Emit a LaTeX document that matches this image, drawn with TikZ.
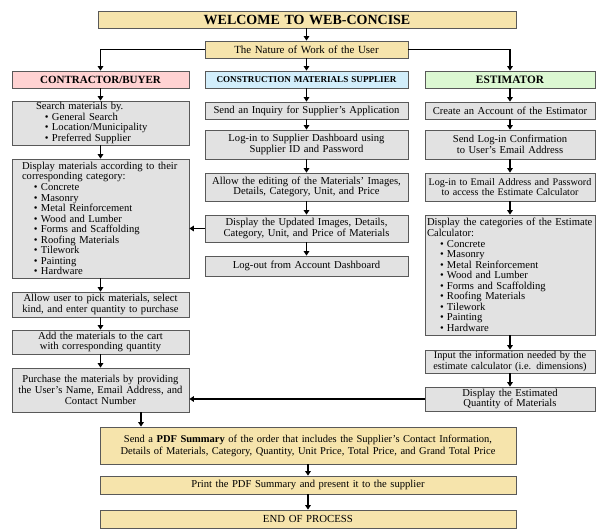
\documentclass[tikz,border=0pt]{standalone}
\usepackage{fontspec}
\setmainfont{Liberation Serif}
\usetikzlibrary{arrows.meta,shadows}
\definecolor{yel}{HTML}{F6E4AC}
\definecolor{pnk}{HTML}{FFD2D2}
\definecolor{blu}{HTML}{D2EEFB}
\definecolor{grn}{HTML}{DCF8D2}
\definecolor{gry}{HTML}{E2E2E2}
\newcommand{\fsz}[2]{\fontsize{#1}{#2}\selectfont}
\newcommand{\itm}[2]{\hspace*{#1}\makebox[7pt][l]{•}#2}
\tikzset{
  base/.style={draw=black!65, line width=0.7pt, inner xsep=2pt, inner ysep=0.5pt, align=center,
    font=\fsz{10.6}{10.8},
    drop shadow={shadow xshift=1.2pt, shadow yshift=-1.2pt, fill=black!45, opacity=0.7}},
  gbox/.style={base, fill=gry},
  ybox/.style={base, fill=yel},
  lst/.style={align=left, font=\fsz{10.6}{10.55}},
  colC/.style={minimum width=177pt, text width=173pt},
  colS/.style={minimum width=203pt, text width=199pt},
  colE/.style={minimum width=170pt, text width=166pt},
  colB/.style={minimum width=416pt, text width=412pt},
  link/.style={line width=1.4pt, -{Triangle[width=5.5pt,length=4.5pt]}},
}
\begin{document}
\begin{tikzpicture}[x=1pt,y=-1pt]
\useasboundingbox (0,0) rectangle (598,531);
% top
\node[ybox, minimum width=418pt, text width=414pt, minimum height=17pt, font=\fsz{14}{15}\bfseries] (title) at (307,19.5) {WELCOME TO WEB-CONCISE};
\node[ybox, colS, minimum height=17pt, font=\fsz{10.9}{12}] (nature) at (306.5,49.5) {The Nature of Work of the User};
% headers
\node[base, fill=pnk, colC, minimum height=17pt, font=\fsz{11}{12}\bfseries] (hC) at (100.5,79.5) {CONTRACTOR/BUYER};
\node[base, fill=blu, colS, minimum height=17pt, font=\fsz{9.1}{10}\bfseries] (hS) at (306.5,79.5) {CONSTRUCTION MATERIALS SUPPLIER};
\node[base, fill=grn, colE, minimum height=17pt, font=\fsz{11.3}{12}\bfseries] (hE) at (510,79.5) {ESTIMATOR};
% contractor column
\node[gbox, colC, lst, minimum height=44pt] (c1) at (100.5,123) {\hspace*{22pt}Search materials by.\\
\itm{31pt}{General Search}\\\itm{31pt}{Location/Municipality}\\\itm{31pt}{Preferred Supplier}};
\node[gbox, colC, lst, minimum height=119pt] (c2) at (100.5,218.5) {\hspace*{8pt}Display materials according to their\\
\hspace*{8pt}corresponding category:\\
\itm{20pt}{Concrete}\\\itm{20pt}{Masonry}\\\itm{20pt}{Metal Reinforcement}\\\itm{20pt}{Wood and Lumber}\\
\itm{20pt}{Forms and Scaffolding}\\\itm{20pt}{Roofing Materials}\\\itm{20pt}{Tilework}\\\itm{20pt}{Painting}\\\itm{20pt}{Hardware}};
\node[gbox, colC, minimum height=25pt] (c3) at (100.5,304.5) {Allow user to pick materials, select\\kind, and enter quantity to purchase};
\node[gbox, colC, minimum height=24pt] (c4) at (100.5,342) {Add the materials to the cart\\with corresponding quantity};
\node[gbox, colC, minimum height=44pt] (c5) at (100.5,390) {Purchase the materials by providing\\the User's Name, Email Address, and\\Contact Number};
% supplier column
\node[gbox, colS, minimum height=17pt] (s1) at (306.5,110.5) {Send an Inquiry for Supplier's Application};
\node[gbox, colS, minimum height=29pt] (s2) at (306.5,144.5) {Log-in to Supplier Dashboard using\\Supplier ID and Password};
\node[gbox, colS, minimum height=28pt] (s3) at (306.5,187) {Allow the editing of the Materials' Images,\\Details, Category, Unit, and Price};
\node[gbox, colS, minimum height=27pt] (s4) at (306.5,228.5) {Display the Updated Images, Details,\\Category, Unit, and Price of Materials};
\node[gbox, colS, minimum height=20pt] (s5) at (306.5,266) {Log-out from Account Dashboard};
% estimator column
\node[gbox, colE, minimum height=17pt] (e1) at (510,110.5) {Create an Account of the Estimator};
\node[gbox, colE, minimum height=29pt] (e2) at (510,144.5) {Send Log-in Confirmation\\to User's Email Address};
\node[gbox, colE, minimum height=28pt, font=\fsz{10.1}{10.8}] (e3) at (510,187) {Log-in to Email Address and Password\\to access the Estimate Calculator};
\node[gbox, colE, lst, minimum height=120pt] (e4) at (510,275) {Display the categories of the Estimate\\Calculator:\\
\itm{13pt}{Concrete}\\\itm{13pt}{Masonry}\\\itm{13pt}{Metal Reinforcement}\\\itm{13pt}{Wood and Lumber}\\
\itm{13pt}{Forms and Scaffolding}\\\itm{13pt}{Roofing Materials}\\\itm{13pt}{Tilework}\\\itm{13pt}{Painting}\\\itm{13pt}{Hardware}};
\node[gbox, colE, minimum height=23pt, font=\fsz{10.3}{10.8}] (e5) at (510,361.5) {Input the information needed by the\\estimate calculator (i.e. dimensions)};
\node[gbox, colE, minimum height=24pt] (e6) at (510,399) {Display the Estimated\\Quantity of Materials};
% bottom
\node[ybox, colB, minimum height=37pt, font=\fsz{10.5}{12}] (pdf) at (308,445.5) {Send a \textbf{PDF Summary} of the order that includes the Supplier's Contact Information,\\Details of Materials, Category, Quantity, Unit Price, Total Price, and Grand Total Price};
\node[ybox, colB, minimum height=18pt, font=\fsz{10.6}{12}] (print) at (308,485) {Print the PDF Summary and present it to the supplier};
\node[ybox, colB, minimum height=18pt, font=\fsz{10.8}{12}] (end) at (308,519) {END OF PROCESS};
\coordinate (px) at (141,0);
% connectors
\draw[link] (nature.north |- title.south) -- (nature.north);
\draw[link] (nature.west) -| (hC.north);
\draw[link] (nature.east) -| (hE.north);
\draw[link] (nature) -- (hS);
\draw[link] (hC) -- (c1);
\draw[link] (c1) -- (c2);
\draw[link] (c2) -- (c3);
\draw[link] (c3) -- (c4);
\draw[link] (c4) -- (c5);
\draw[link] (hS) -- (s1);
\draw[link] (s1) -- (s2);
\draw[link] (s2) -- (s3);
\draw[link] (s3) -- (s4);
\draw[link] (s4) -- (s5);
\draw[link] (hE) -- (e1);
\draw[link] (e1) -- (e2);
\draw[link] (e2) -- (e3);
\draw[link] (e3) -- (e4);
\draw[link] (e4) -- (e5);
\draw[link] (e5) -- (e6);
\draw[link] (s4.west) -- (s4.west -| c2.east);
\draw[link] (e6.west) -- (e6.west -| c5.east);
\draw[link] (c5.south -| px) -- (pdf.north -| px);
\draw[link] (pdf) -- (print);
\draw[link] (print) -- (end);
\end{tikzpicture}
\end{document}
